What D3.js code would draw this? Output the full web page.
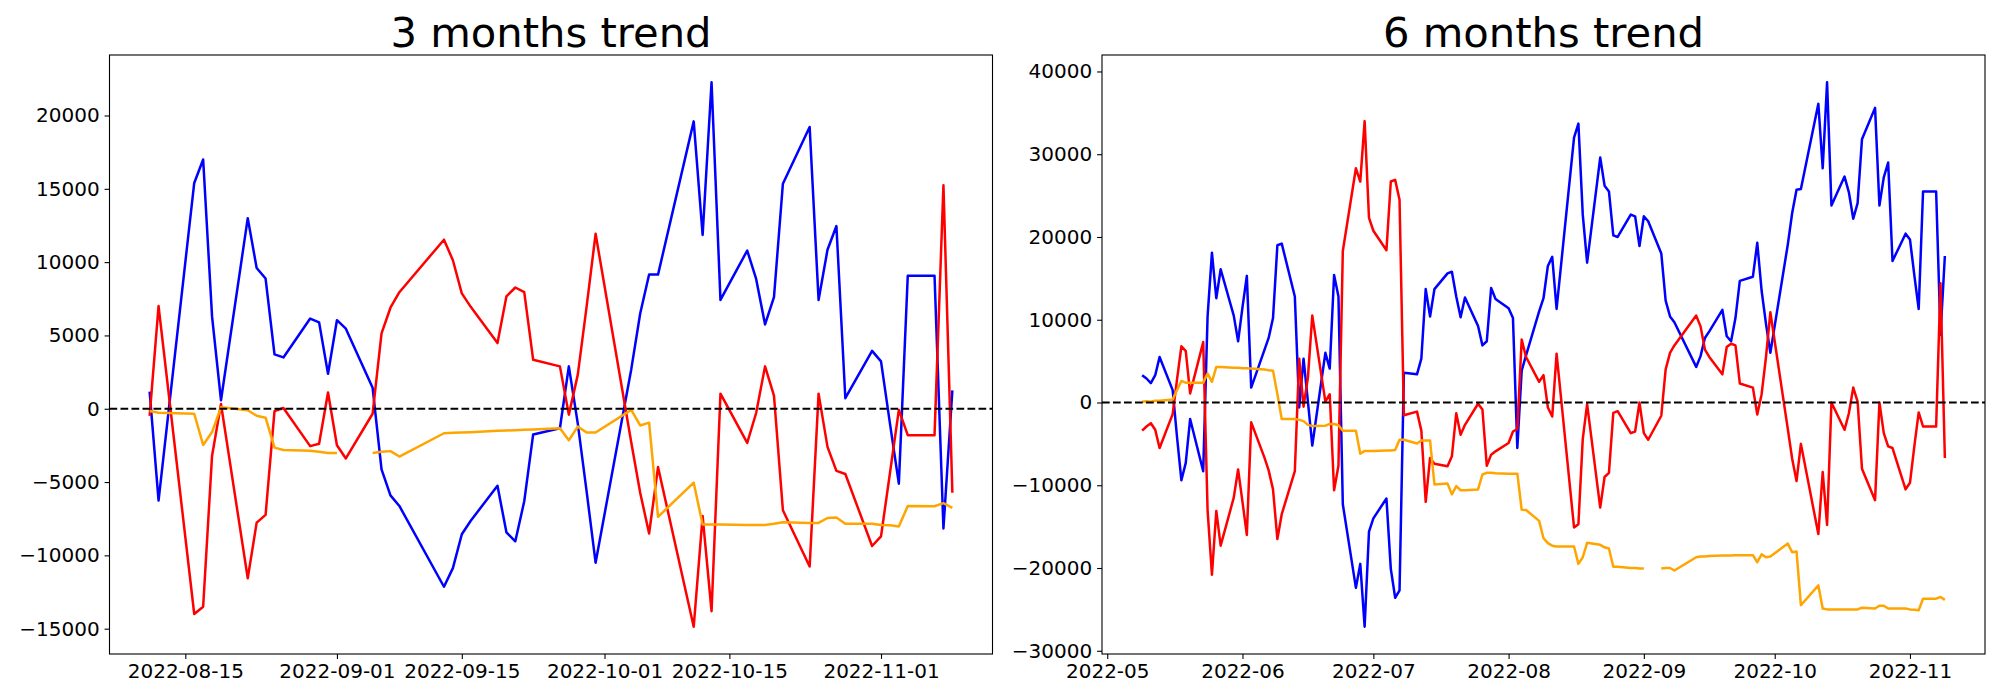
<!DOCTYPE html>
<html><head><meta charset="utf-8">
<script src="https://cdn.jsdelivr.net/npm/d3@7"></script>
<style>
body{margin:0;background:#fff;}
text{font-family:"DejaVu Sans",sans-serif;}
</style>
</head><body>
<svg id="chart" width="2000" height="700"></svg>
<script>
// ---------- 3 months data ----------
const dates3 = ["2022-08-11","2022-08-12","2022-08-16","2022-08-17","2022-08-18","2022-08-19",
"2022-08-22","2022-08-23","2022-08-24","2022-08-25","2022-08-26",
"2022-08-29","2022-08-30","2022-08-31","2022-09-01","2022-09-02",
"2022-09-05","2022-09-06","2022-09-07","2022-09-08",
"2022-09-13","2022-09-14","2022-09-15","2022-09-16",
"2022-09-19","2022-09-20","2022-09-21","2022-09-22","2022-09-23",
"2022-09-26","2022-09-27","2022-09-28","2022-09-29","2022-09-30",
"2022-10-04","2022-10-05","2022-10-06","2022-10-07",
"2022-10-11","2022-10-12","2022-10-13","2022-10-14",
"2022-10-17","2022-10-18","2022-10-19","2022-10-20","2022-10-21",
"2022-10-24","2022-10-25","2022-10-26","2022-10-27","2022-10-28",
"2022-10-31","2022-11-01","2022-11-02","2022-11-03","2022-11-04",
"2022-11-07","2022-11-08","2022-11-09"];
const blue3 = [1170,-6260,15400,17000,6280,580,
13000,9600,8880,3710,3500,
6150,5890,2390,6040,5460,
1430,-4140,-5910,-6630,
-12140,-10870,-8560,-7640,
-5250,-8430,-9040,-6310,-1750,
-1330,2890,-1000,-5670,-10500,
2700,6500,9150,9150,
19600,11850,22270,7420,
10790,8850,5750,7610,15350,
19220,7420,10840,12460,720,
3950,3230,-1000,-5110,9070,
9070,-8170,1250];
const red3 = [-480,7000,-14000,-13500,-3200,320,
-11560,-7770,-7240,-160,50,
-2550,-2390,1110,-2490,-3390,
-340,5140,6890,7950,
11530,10130,7870,6950,
4480,7660,8270,7950,3340,
2890,-400,2310,7000,11930,
-2300,-5730,-8510,-3980,
-14870,-7320,-13810,1030,
-2330,-290,2890,900,-6920,
-10760,1030,-2600,-4240,-4450,
-9360,-8700,-4400,-80,-1800,
-1800,15240,-5730];
const orange3 = [-160,-270,-340,-2470,-1590,100,
-100,-480,-610,-2650,-2810,
-2860,-2940,-3020,-3020,null,
-3020,-2940,-2890,-3260,
-1670,-1640,-1620,-1600,
-1500,-1480,-1460,-1440,-1420,
-1330,-2150,-1220,-1620,-1620,
-80,-1140,-950,-7370,
-5040,-7900,-7900,-7900,
-7930,-7930,-7930,-7850,-7740,
-7790,-7790,-7450,-7420,-7850,
-7850,-7930,-7950,-8030,-6630,
-6650,-6440,-6760];

// ---------- 6 months data ----------
const dates6 = ["2022-05-09","2022-05-10","2022-05-11","2022-05-12","2022-05-13",
"2022-05-16","2022-05-17","2022-05-18","2022-05-19","2022-05-20",
"2022-05-23","2022-05-24","2022-05-25","2022-05-26","2022-05-27",
"2022-05-30","2022-05-31","2022-06-01","2022-06-02","2022-06-03",
"2022-06-06","2022-06-07","2022-06-08","2022-06-09","2022-06-10",
"2022-06-13","2022-06-14","2022-06-15","2022-06-16","2022-06-17",
"2022-06-20","2022-06-21","2022-06-22","2022-06-23","2022-06-24",
"2022-06-27","2022-06-28","2022-06-29","2022-06-30","2022-07-01",
"2022-07-04","2022-07-05","2022-07-06","2022-07-07","2022-07-08",
"2022-07-11","2022-07-12","2022-07-13","2022-07-14","2022-07-15",
"2022-07-18","2022-07-19","2022-07-20","2022-07-21","2022-07-22",
"2022-07-25","2022-07-26","2022-07-27","2022-07-28","2022-07-29",
"2022-08-01","2022-08-02","2022-08-03","2022-08-04","2022-08-05",
"2022-08-08","2022-08-09","2022-08-10","2022-08-11","2022-08-12",
"2022-08-16","2022-08-17","2022-08-18","2022-08-19",
"2022-08-22","2022-08-23","2022-08-24","2022-08-25","2022-08-26",
"2022-08-29","2022-08-30","2022-08-31","2022-09-01","2022-09-02",
"2022-09-05","2022-09-06","2022-09-07","2022-09-08",
"2022-09-13","2022-09-14","2022-09-15","2022-09-16",
"2022-09-19","2022-09-20","2022-09-21","2022-09-22","2022-09-23",
"2022-09-26","2022-09-27","2022-09-28","2022-09-29","2022-09-30",
"2022-10-04","2022-10-05","2022-10-06","2022-10-07",
"2022-10-11","2022-10-12","2022-10-13","2022-10-14",
"2022-10-17","2022-10-18","2022-10-19","2022-10-20","2022-10-21",
"2022-10-24","2022-10-25","2022-10-26","2022-10-27","2022-10-28",
"2022-10-31","2022-11-01","2022-11-02","2022-11-03","2022-11-04",
"2022-11-07","2022-11-08","2022-11-09"];
const blue6 = [3300,2900,2350,3300,5500,
1500,-4200,-9400,-7300,-2000,
-8300,10400,18100,12600,16100,
10500,7400,11500,15300,1800,
6300,7800,10200,19000,19200,
12800,-600,5300,100,-5200,
6000,4100,15400,12800,-12300,
-22400,-19500,-27100,-15600,-14000,
-11600,-20100,-23600,-22700,3600,
3400,5300,13700,10400,13700,
15600,15800,12800,10300,12700,
9250,6900,7400,13850,12500,
11400,10200,-5500,3850,5700,
11000,12600,16500,17600,11300,
32000,33700,22700,16900,
29600,26200,25500,20200,20000,
22700,22500,18900,22500,21900,
18000,12300,10400,9700,
4300,5600,7800,8600,
11200,8000,7400,10200,14700,
15200,19300,13500,9500,6000,
19100,22900,25700,25800,
36100,28300,38700,23800,
27300,25400,22200,24100,31800,
35600,23800,27200,29000,17100,
20400,19700,15400,11300,25500,
25500,8200,17700];
const red6 = [-3400,-2900,-2500,-3300,-5500,
-1400,2800,6800,6200,1100,
7300,-13000,-20800,-13100,-17300,
-11500,-8100,-12000,-16000,-2400,
-6600,-8200,-10500,-16500,-13500,
-8300,5300,-500,3000,10500,
100,1000,-10600,-7650,18300,
28300,26700,34000,22300,20750,
18400,26700,26900,24500,-1550,
-1100,-3400,-12000,-6700,-7400,
-7700,-6500,-1300,-3900,-2700,
-150,-850,-7650,-6300,-5900,
-4900,-3500,-3200,7600,5500,
2500,3300,-600,-1700,5900,
-15100,-14700,-4400,-200,
-12700,-9000,-8500,-1250,-1050,
-3700,-3500,0,-3700,-4500,
-1600,4000,6000,6900,
10500,9200,6400,5500,
3400,6700,7100,6900,2300,
1800,-1450,1000,5500,10900,
-3200,-6800,-9500,-5000,
-15900,-8400,-14800,0,
-3300,-1300,1800,100,-8000,
-11800,0,-3700,-5300,-5500,
-10500,-9700,-5300,-1200,-2900,
-2900,14400,-6700];
const orange6 = [100,150,100,200,200,
350,1500,2600,2400,2400,
2400,3500,2500,4300,4300,
4200,4200,4150,4150,4100,
4000,3900,3850,1000,-2000,
-2000,-2100,-2250,-2700,-2850,
-2800,-2600,-2600,-2750,-3400,
-3400,-6200,-5850,-5850,-5850,
-5800,-5800,-5750,-4500,-4500,
-4950,-4600,-4600,-4600,-9900,
-9800,-11100,-10100,-10600,-10600,
-10500,-8700,-8500,-8500,-8550,
-8600,-8600,-8600,-12960,-13000,
-14300,-16400,-17000,-17300,-17400,
-17400,-19500,-18700,-16950,
-17200,-17500,-17650,-19850,-19850,
-20000,-20000,-20050,-20050,null,
-20050,-20000,-20000,-20300,
-18700,-18600,-18600,-18550,
-18500,-18500,-18500,-18450,-18450,
-18450,-19300,-18350,-18700,-18600,
-17050,-18100,-18000,-24500,
-22100,-24900,-25000,-25000,
-25000,-25000,-25000,-25000,-24800,
-24900,-24550,-24550,-24900,-24900,
-24900,-25000,-25050,-25100,-23700,
-23700,-23500,-23850];

// ---------- ticks ----------
const xTicks3 = ["2022-08-15","2022-09-01","2022-09-15","2022-10-01","2022-10-15","2022-11-01"];
const xTicks6 = ["2022-05-01","2022-06-01","2022-07-01","2022-08-01","2022-09-01","2022-10-01","2022-11-01"];
const yTicks3 = [-15000,-10000,-5000,0,5000,10000,15000,20000];
const yTicks6 = [-30000,-20000,-10000,0,10000,20000,30000,40000];
const seriesColors = ["blue","red","orange"];

const parse = d3.utcParse("%Y-%m-%d");
const svg = d3.select("#chart");

function drawPanel(cfg){
  const dates = cfg.dates.map(parse);
  const [t0,t1] = d3.extent(dates);
  const span = t1 - t0;
  const x = d3.scaleUtc()
    .domain([new Date(+t0 - span*0.05), new Date(+t1 + span*0.05)])
    .range([cfg.left, cfg.right]);
  const all = cfg.series.flat().filter(v => v !== null);
  const lo = d3.min(all), hi = d3.max(all), r = hi - lo;
  const y = d3.scaleLinear().domain([lo - r*0.05, hi + r*0.05]).range([cfg.bottom, cfg.top]);

  const g = svg.append("g");

  const line = d3.line()
    .defined(d => d[1] !== null)
    .x(d => x(d[0])).y(d => y(d[1]));
  cfg.series.forEach((vals,i) => {
    g.append("path")
      .datum(dates.map((d,k) => [d, vals[k]]))
      .attr("fill","none")
      .attr("stroke", seriesColors[i])
      .attr("stroke-width", 2.5)
      .attr("stroke-linejoin","round")
      .attr("d", line);
  });

  // dashed zero line
  g.append("line")
    .attr("x1", cfg.left).attr("x2", cfg.right)
    .attr("y1", y(0)).attr("y2", y(0))
    .attr("stroke","black").attr("stroke-width",2.08)
    .attr("stroke-dasharray","7.7,3.3");

  // frame
  g.append("rect")
    .attr("x", cfg.left).attr("y", cfg.top)
    .attr("width", cfg.right - cfg.left).attr("height", cfg.bottom - cfg.top)
    .attr("fill","none").attr("stroke","black").attr("stroke-width",1.1);

  const xa = g.append("g").attr("transform",`translate(0,${cfg.bottom})`)
    .call(d3.axisBottom(x).tickValues(cfg.xTicks.map(parse))
      .tickFormat(d3.utcFormat(cfg.xFormat)).tickSize(4.9).tickPadding(4.9));
  const ya = g.append("g").attr("transform",`translate(${cfg.left},0)`)
    .call(d3.axisLeft(y).tickValues(cfg.yTicks)
      .tickFormat(d3.format("d")).tickSize(4.9).tickPadding(4.9));
  [xa,ya].forEach(a => {
    a.select(".domain").remove();
    a.selectAll("line").attr("stroke","black").attr("stroke-width",1.1);
    a.selectAll("text").attr("font-size","20px").attr("fill","black")
      .attr("font-family","DejaVu Sans, sans-serif");
  });

  g.append("text")
    .attr("x", (cfg.left + cfg.right)/2).attr("y", cfg.top - 8.5)
    .attr("text-anchor","middle").attr("font-size","41.7px").attr("fill","black")
    .text(cfg.title);
}

drawPanel({left:109.5, right:992.5, top:55, bottom:654, title:"3 months trend",
  dates:dates3, series:[blue3, red3, orange3], xTicks:xTicks3, yTicks:yTicks3, xFormat:"%Y-%m-%d"});
drawPanel({left:1102, right:1985, top:55, bottom:654, title:"6 months trend",
  dates:dates6, series:[blue6, red6, orange6], xTicks:xTicks6, yTicks:yTicks6, xFormat:"%Y-%m"});
</script>
</body></html>
